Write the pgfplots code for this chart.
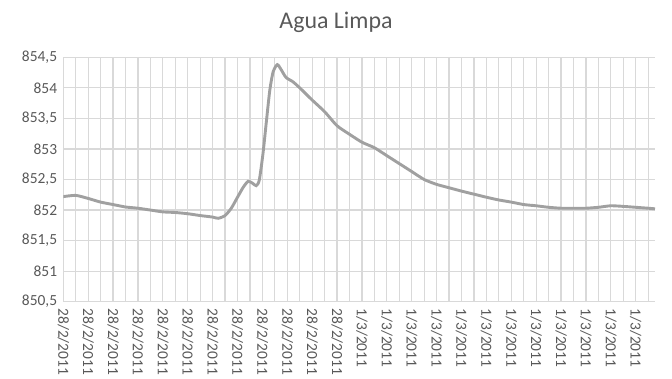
\documentclass[border=0pt]{standalone}
\usepackage{fontspec}
\setmainfont{Carlito}
\usepackage{pgfplots}
\pgfplotsset{compat=1.18}
\definecolor{txt}{RGB}{89,89,89}
\definecolor{grd}{RGB}{217,217,217}
\definecolor{ln}{RGB}{160,160,160}
\begin{document}
\begin{tikzpicture}[x=1bp,y=1bp]
\useasboundingbox (0,0) rectangle (672,378);
\node[anchor=base, text=txt, font=\fontsize{24}{28}\selectfont, inner sep=0pt] at (336,350) {Agua Limpa};
\begin{axis}[
  at={(63.3bp,76.3bp)}, anchor=south west,
  scale only axis, width=591.7bp, height=244.4bp,
  xmin=0, xmax=47.55, ymin=850.5, ymax=854.5,
  enlargelimits=false,
  ytick={850.5,851,851.5,852,852.5,853,853.5,854,854.5},
  xtick={0,...,47},
  xticklabels={28/2/2011,,28/2/2011,,28/2/2011,,28/2/2011,,28/2/2011,,28/2/2011,,28/2/2011,,28/2/2011,,28/2/2011,,28/2/2011,,28/2/2011,,28/2/2011,,1/3/2011,,1/3/2011,,1/3/2011,,1/3/2011,,1/3/2011,,1/3/2011,,1/3/2011,,1/3/2011,,1/3/2011,,1/3/2011,,1/3/2011,,1/3/2011,},
  grid=major, major grid style={draw=grd, line width=1.2bp},
  axis line style={draw=none},
  major tick length=0pt, minor tick length=0pt,
  ticklabel style={font=\fontsize{15.5}{18}\selectfont, text=txt},
  /pgf/number format/assume math mode=true,
  /pgf/number format/use comma,
  xticklabel style={rotate=-90, anchor=west, inner xsep=6.6bp, inner ysep=0pt},
  yticklabel style={anchor=east, inner xsep=6bp, inner ysep=0pt},
]
\addplot[ln, line width=2.9bp, smooth, tension=0.4] coordinates {
(0,852.22) (1,852.24) (2,852.19) (3,852.13) (4,852.09) (5,852.05) (6,852.03) (7,852.00)
(8,851.97) (9,851.96) (10,851.94) (11,851.91) (12,851.885) (12.45,851.865) (13,851.91)
(13.5,852.03) (14,852.21) (14.45,852.37) (14.85,852.47) (15.2,852.44) (15.5,852.40)
(15.75,852.49) (16.05,852.93) (16.33,853.47) (16.6,853.97) (16.87,854.27) (17.2,854.38)
(17.5,854.30) (17.9,854.17) (18.45,854.10) (19,854.0) (19.5,853.90) (20,853.80)
(21,853.61) (22,853.38) (23,853.24) (24,853.11) (25,853.02) (26,852.89) (27,852.76)
(28,852.63) (29,852.50) (30,852.42) (31,852.365) (32,852.31) (33,852.26) (34,852.21)
(35,852.165) (36,852.13) (37,852.09) (38,852.07) (39,852.045) (40,852.03) (41,852.03)
(42,852.03) (43,852.045) (44,852.07) (45,852.06) (46,852.045) (47,852.03) (47.55,852.02)
};
\end{axis}
\end{tikzpicture}
\end{document}
